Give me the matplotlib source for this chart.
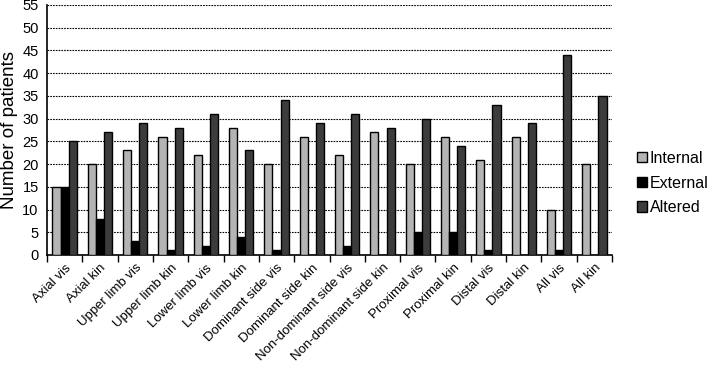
import numpy as np
import matplotlib
matplotlib.use('Agg')
from matplotlib import pyplot as plt

categories = ['Axial vis', 'Axial kin', 'Upper limb vis', 'Upper limb kin', 'Lower limb vis',
              'Lower limb kin', 'Dominant side vis', 'Dominant side kin', 'Non-dominant side vis',
              'Non-dominant side kin', 'Proximal vis', 'Proximal kin', 'Distal vis', 'Distal kin',
              'All vis', 'All kin']
internal = [15, 20, 23, 26, 22, 28, 20, 26, 22, 27, 20, 26, 21, 26, 10, 20]
external = [15, 8, 3, 1, 2, 4, 1, 0, 2, 0, 5, 5, 1, 0, 1, 0]
altered = [25, 27, 29, 28, 31, 23, 34, 29, 31, 28, 30, 24, 33, 29, 44, 35]

plt.rcParams['font.family'] = ['Liberation Sans', 'DejaVu Sans']

fig = plt.figure(figsize=(7.09, 3.65), dpi=100)
ax = fig.add_axes([47 / 709, 1 - 255 / 365, (612 - 47) / 709, 250 / 365])

x = np.arange(len(categories))
w = 0.23
series = [(internal, '#b4b4b4', 'Internal'), (external, '#000000', 'External'),
          (altered, '#3c3c3c', 'Altered')]
for k, (vals, col, lab) in enumerate(series):
    ax.bar(x + (k - 1) * w, vals, w, color=col, edgecolor='black', linewidth=1.0,
           label=lab, zorder=3)

ax.set_xlim(-0.5, len(categories) - 0.5)
ax.set_ylim(0, 55)
ax.set_yticks(range(0, 56, 5))
ax.yaxis.grid(True, linestyle=(0, (1.5, 1)), color='black', linewidth=0.8, zorder=0)
ax.tick_params(axis='y', length=0, labelsize=10.5, pad=6)

ax.set_xticks(x)
ax.set_xticklabels(categories, rotation=45, ha='right', rotation_mode='anchor', fontsize=9.5)
ax.tick_params(axis='x', length=0, pad=5)
ax.set_xticks(np.arange(-0.5, len(categories)), minor=True)
ax.tick_params(axis='x', which='minor', length=5, width=1, direction='out')

for s in ['top', 'right']:
    ax.spines[s].set_visible(False)
ax.spines['left'].set_linewidth(1.2)
ax.spines['bottom'].set_linewidth(1.2)

ax.set_ylabel('Number of patients', fontsize=13.5, labelpad=3)

ax.legend(loc='center left', bbox_to_anchor=(637 / 709, 1 - 183 / 365),
          bbox_transform=fig.transFigure, borderaxespad=0, borderpad=0,
          frameon=False, fontsize=11.5, handlelength=0.6, handleheight=0.6,
          handletextpad=0.2, labelspacing=0.6)

fig.savefig('out.png', dpi=100)
